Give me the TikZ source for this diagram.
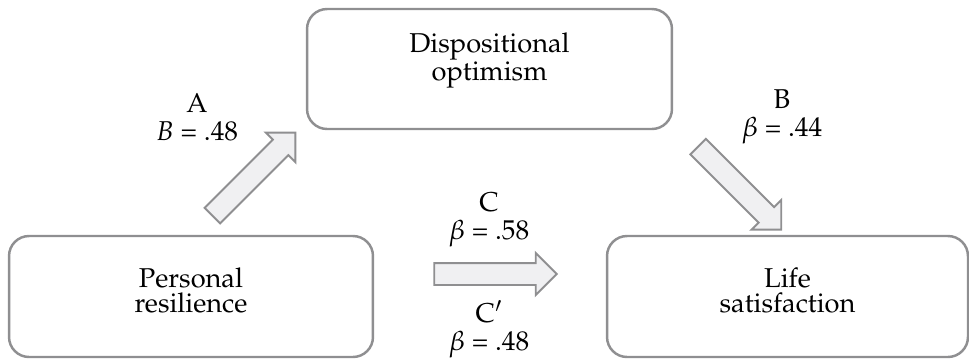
\documentclass[tikz,border=0pt]{standalone}
\usepackage[T1]{fontenc}
\usepackage{mathpazo}
\usepackage{tikz}
\usetikzlibrary{arrows.meta, positioning, shapes.arrows}
\usepackage{xcolor}
\definecolor{boxline}{HTML}{8F8F91}
\definecolor{arrowfill}{HTML}{F0F0F2}

\begin{document}
\begin{tikzpicture}[
    x=0.02cm, y=-0.02cm,
    box/.style={rectangle, draw=boxline, line width=1.4pt, rounded corners=0.4cm, align=center, font=\fontsize{15.5}{14.5}\selectfont},
    fatarrow/.style={single arrow, draw=boxline, fill=arrowfill, line width=1.1pt, inner sep=0.2cm, single arrow head extend=0.2cm, minimum height=2.35cm},
    coef/.style={align=center, font=\fontsize{15.5}{16}\selectfont}
]
    \useasboundingbox (0,0) rectangle (969,359);

    % Variablen
    \node[box, minimum width=7.3cm, minimum height=2.4cm, text depth=0.5cm] (opt) at (489.5,69) {Dispositional\\optimism};
    \node[box, minimum width=7.28cm, minimum height=2.42cm, text depth=0.25cm] (res) at (191,296.5) {Personal\\resilience};
    \node[box, minimum width=7.22cm, minimum height=2.42cm, text depth=0.25cm] (sat) at (787.5,296.5) {Life\\satisfaction};

    % Pfeile
    \node[fatarrow, rotate=45] (arrA) at (250,178) {};
    \node[fatarrow, rotate=-45] (arrB) at (735.8,184.2) {};
    \node[fatarrow, minimum height=2.45cm] (arrC) at (490,274) {};

    % Koeffizienten
    \node[coef] (coefA) at (197,117) {A\\$B$ = .48};
    \node[coef] (coefB) at (782,117) {B\\$\beta$ = .44};
    \node[coef] (coefC) at (489,220) {C\\$\beta$ = .58};
    \node[coef] (coefCp) at (489,329) {C$'$\\$\beta$ = .48};
\end{tikzpicture}
\end{document}
